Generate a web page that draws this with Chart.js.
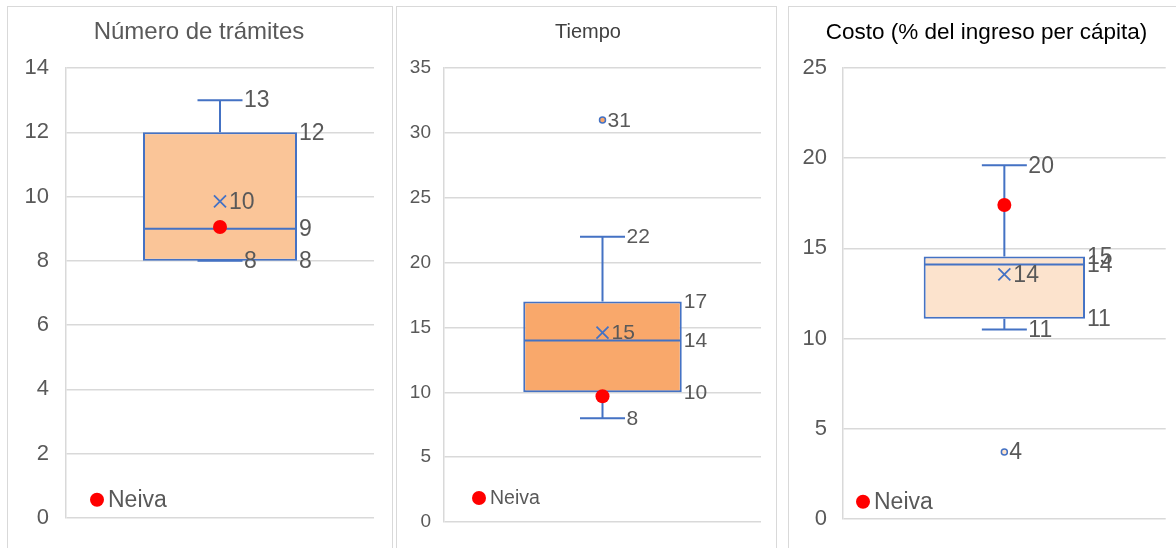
<!doctype html>
<html lang="es">
<head>
<meta charset="utf-8">
<script src="https://cdn.jsdelivr.net/npm/chart.js"></script>
<style>
  body { margin: 0; background: #fff; width: 1176px; height: 548px; overflow: hidden; position: relative; }
  .panel { position: absolute; top: 6px; height: 560px; border: 1px solid #d9d9d9; box-sizing: border-box; }
  canvas { position: absolute; top: 6px; }
</style>
</head>
<body>
<div class="panel" style="left:7px;width:386px"></div>
<div class="panel" style="left:396px;width:381px"></div>
<div class="panel" style="left:788px;width:400px"></div>
<canvas id="c0" width="384" height="542" style="left:7px"></canvas>
<canvas id="c1" width="380" height="542" style="left:396px"></canvas>
<canvas id="c2" width="388" height="542" style="left:788px"></canvas>

<script>
// box plot stats, one entry per panel
const titles = ['Número de trámites', 'Tiempo', 'Costo (% del ingreso per cápita)'];
const whiskerMin = [8, 8, 10.5];
const q1 = [8, 10, 11.1];
const median = [9, 14, 14.1];
const q3 = [12, 17, 14.55];
const whiskerMax = [13, 22, 19.6];
const mean = [9.85, 14.6, 13.55];
const outliers = [[], [31], [3.7]];
const neiva = [9.05, 9.7, 17.4];
const yMax = [14, 35, 25];
const yStep = [2, 5, 5];
const legendName = 'Neiva';

const blue = '#4472C4';
const gray = '#595959';
const boxFill = ['#FAC598', '#F9A86B', '#FCE3CD'];
const font = '"Liberation Sans", Arial, sans-serif';

// per panel look; an empty right axis keeps the title centred on the panel, not the plot
const look = [
  { padL: 0, axisW: 59, rightW: 17, tickPad: 17, tickSize: 22, lblSize: 23, legSize: 23, titleSize: 24, titleColor: '#595959', titleTop: 12, legend: [31, 18] },
  { padL: 4, axisW: 44, rightW: 15, tickPad: 13, tickSize: 19, lblSize: 21, legSize: 19.5, titleSize: 20, titleColor: '#404040', titleTop: 14, legend: [35, 24] },
  { padL: 9, axisW: 46, rightW: 9, tickPad: 16, tickSize: 22, lblSize: 23, legSize: 23, titleSize: 22.5, titleColor: '#000000', titleTop: 13, legend: [20, 17] }
];

const boxPlugin = {
  id: 'boxParts',
  afterDatasetDraw(chart, args) {
    if (args.index !== 0) return;
    const i = chart.$panel;
    const bar = chart.getDatasetMeta(0).data[0];
    const y = chart.scales.y;
    const ctx = chart.ctx;
    const left = bar.x - bar.width / 2, right = bar.x + bar.width / 2;
    const cap = 22.5;
    ctx.save();
    ctx.strokeStyle = blue;
    ctx.lineWidth = 2;
    ctx.beginPath();
    // whisker stems
    ctx.moveTo(bar.x, y.getPixelForValue(q3[i]));
    ctx.lineTo(bar.x, y.getPixelForValue(whiskerMax[i]));
    ctx.moveTo(bar.x, y.getPixelForValue(q1[i]));
    ctx.lineTo(bar.x, y.getPixelForValue(whiskerMin[i]));
    // caps
    ctx.moveTo(bar.x - cap, y.getPixelForValue(whiskerMax[i]));
    ctx.lineTo(bar.x + cap, y.getPixelForValue(whiskerMax[i]));
    ctx.moveTo(bar.x - cap, y.getPixelForValue(whiskerMin[i]));
    ctx.lineTo(bar.x + cap, y.getPixelForValue(whiskerMin[i]));
    // median
    ctx.moveTo(left + 1, y.getPixelForValue(median[i]));
    ctx.lineTo(right - 1, y.getPixelForValue(median[i]));
    ctx.stroke();
    ctx.restore();
  },
  afterDatasetsDraw(chart) {
    const i = chart.$panel;
    const lk = look[i];
    const bar = chart.getDatasetMeta(0).data[0];
    const y = chart.scales.y;
    const ctx = chart.ctx;
    const right = bar.x + bar.width / 2;
    ctx.save();
    ctx.fillStyle = gray;
    ctx.font = lk.lblSize + 'px ' + font;
    ctx.textBaseline = 'middle';
    const put = (v, x) => ctx.fillText(String(Math.round(v)), x, y.getPixelForValue(v) + 1);
    put(whiskerMax[i], bar.x + 24);
    put(whiskerMin[i], bar.x + 24);
    put(q3[i], right + 2);
    put(median[i], right + 2);
    put(q1[i], right + 2);
    put(mean[i], bar.x + 9);
    outliers[i].forEach(v => put(v, bar.x + 5));
    // legend inside plot area
    const a = chart.chartArea;
    const lx = a.left + lk.legend[0], ly = a.bottom - lk.legend[1];
    ctx.fillStyle = '#FF0000';
    ctx.beginPath();
    ctx.arc(lx, ly, 7, 0, Math.PI * 2);
    ctx.fill();
    ctx.fillStyle = gray;
    ctx.font = lk.legSize + 'px ' + font;
    ctx.fillText(legendName, lx + 11, ly + 1);
    ctx.restore();
  }
};

function makePanel(i) {
  const lk = look[i];
  new Chart(document.getElementById('c' + i), {
    type: 'bar',
    data: {
      labels: ['1'],
      datasets: [
        {
          data: [[q1[i], q3[i]]],
          backgroundColor: boxFill[i],
          borderColor: blue,
          borderWidth: 2,
          borderSkipped: false,
          barPercentage: 0.5,
          categoryPercentage: 1,
          order: 3
        },
        {
          type: 'line',
          data: [mean[i]],
          showLine: false,
          pointStyle: 'crossRot',
          pointRadius: 8.5,
          pointBorderWidth: 1.8,
          pointBorderColor: blue,
          order: 2
        },
        {
          type: 'line',
          data: outliers[i].map(v => ({ x: '1', y: v })),
          showLine: false,
          pointStyle: 'circle',
          pointRadius: 3,
          pointBorderWidth: 1.5,
          pointBorderColor: blue,
          pointBackgroundColor: boxFill[i],
          order: 2
        },
        {
          type: 'line',
          label: legendName,
          data: [neiva[i]],
          showLine: false,
          pointRadius: 7,
          pointBorderWidth: 0,
          pointBackgroundColor: '#FF0000',
          order: 1
        }
      ]
    },
    options: {
      responsive: false,
      animation: false,
      layout: { padding: { left: lk.padL, right: 0, top: 0, bottom: 26 } },
      plugins: {
        legend: { display: false },
        tooltip: { enabled: false },
        title: {
          display: true,
          text: titles[i],
          color: lk.titleColor,
          font: { family: font, size: lk.titleSize, weight: 'normal' },
          padding: { top: lk.titleTop, bottom: 62 - lk.titleTop - lk.titleSize * 1.2 }
        }
      },
      scales: {
        x: { display: false },
        y: {
          min: 0,
          max: yMax[i],
          ticks: {
            stepSize: yStep[i],
            color: gray,
            padding: lk.tickPad,
            font: { family: font, size: lk.tickSize }
          },
          grid: { color: '#D9D9D9', lineWidth: 1.5, drawTicks: false },
          border: { display: true, color: '#D9D9D9', width: 1.5 },
          afterFit: (s) => { s.width = lk.axisW; }
        },
        yR: {
          position: 'right',
          min: 0,
          max: yMax[i],
          ticks: { display: false },
          grid: { display: false },
          border: { display: false },
          afterFit: (s) => { s.width = lk.rightW; }
        }
      }
    },
    plugins: [boxPlugin]
  });
}

// panel index has to be known before the first draw
Chart.register({ id: 'panelIdx', beforeInit(chart) { chart.$panel = Number(chart.canvas.id.slice(1)); } });
[0, 1, 2].forEach(makePanel);
</script>
</body>
</html>
